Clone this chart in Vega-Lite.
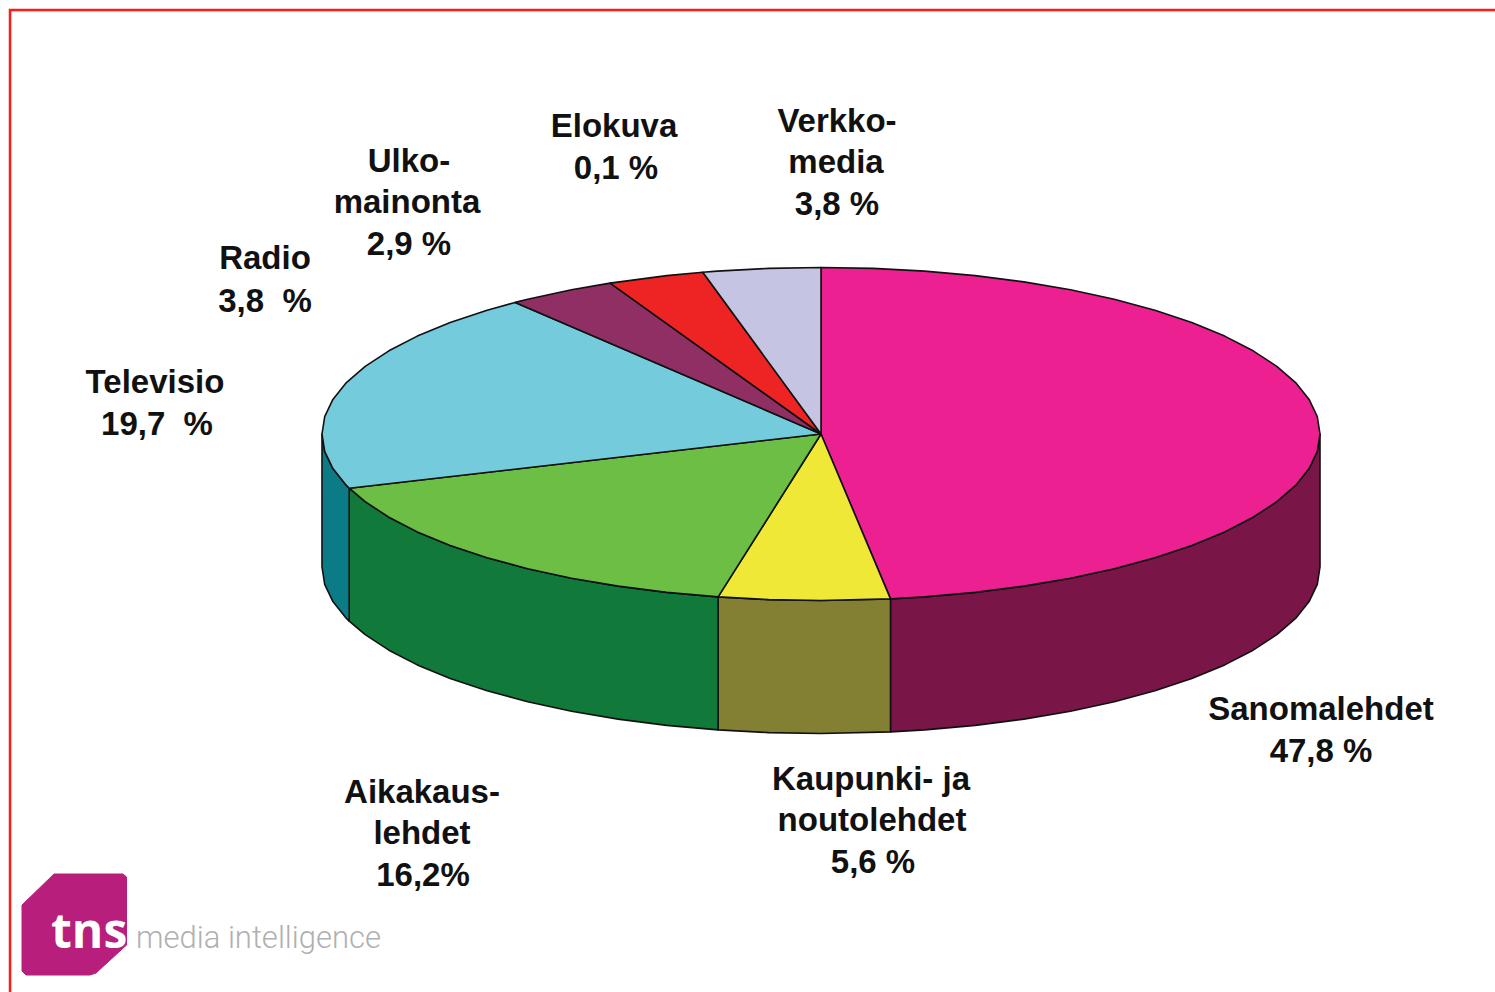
{"$schema":"https://vega.github.io/schema/vega-lite/v6.json","width":1495,"height":992,"padding":0,"autosize":"none","background":"#ffffff","view":{"stroke":null},"config":{"legend":{"disable":true}},
"encoding":{"x":{"field":"x","type":"quantitative","axis":null,"scale":{"domain":[0,1495],"nice":false,"zero":false}},"y":{"field":"y","type":"quantitative","axis":null,"scale":{"domain":[992,0],"nice":false,"zero":false}}},
"layer":[
{"data":{"values":[{"x":10,"y":992,"o":1},{"x":10,"y":10,"o":2},{"x":1495,"y":10,"o":3}]},"mark":{"type":"line","stroke":"#ff1a1a","strokeWidth":2.5,"interpolate":"linear"},"encoding":{"order":{"field":"o","type":"quantitative"}}},
{"data":{"values":[
{"p":"maroon","o":1,"x":1320,"y":434},{"p":"maroon","o":2,"x":1317.3,"y":451.4},{"p":"maroon","o":3,"x":1309.1,"y":468.6},{"p":"maroon","o":4,"x":1295.6,"y":485.4},{"p":"maroon","o":5,"x":1276.8,"y":501.7},{"p":"maroon","o":6,"x":1253.1,"y":517.2},{"p":"maroon","o":7,"x":1224.7,"y":531.9},{"p":"maroon","o":8,"x":1191.8,"y":545.4},{"p":"maroon","o":9,"x":1154.9,"y":557.7},{"p":"maroon","o":10,"x":1114.3,"y":568.7},{"p":"maroon","o":11,"x":1070.5,"y":578.2},{"p":"maroon","o":12,"x":1023.9,"y":586.1},{"p":"maroon","o":13,"x":975.2,"y":592.4},{"p":"maroon","o":14,"x":924.7,"y":596.9},{"p":"maroon","o":15,"x":890.5,"y":598.9},{"p":"maroon","o":16,"x":890.5,"y":731.9},{"p":"maroon","o":17,"x":924.7,"y":729.9},{"p":"maroon","o":18,"x":975.2,"y":725.4},{"p":"maroon","o":19,"x":1023.9,"y":719.1},{"p":"maroon","o":20,"x":1070.5,"y":711.2},{"p":"maroon","o":21,"x":1114.3,"y":701.7},{"p":"maroon","o":22,"x":1154.9,"y":690.7},{"p":"maroon","o":23,"x":1191.8,"y":678.4},{"p":"maroon","o":24,"x":1224.7,"y":664.9},{"p":"maroon","o":25,"x":1253.1,"y":650.2},{"p":"maroon","o":26,"x":1276.8,"y":634.7},{"p":"maroon","o":27,"x":1295.6,"y":618.4},{"p":"maroon","o":28,"x":1309.1,"y":601.6},{"p":"maroon","o":29,"x":1317.3,"y":584.4},{"p":"maroon","o":30,"x":1320,"y":567},
{"p":"olive","o":1,"x":890.5,"y":598.9},{"p":"olive","o":2,"x":821,"y":600.5},{"p":"olive","o":3,"x":768.8,"y":599.6},{"p":"olive","o":4,"x":718.1,"y":596.9},{"p":"olive","o":5,"x":718.1,"y":729.9},{"p":"olive","o":6,"x":768.8,"y":732.6},{"p":"olive","o":7,"x":821,"y":733.5},{"p":"olive","o":8,"x":890.5,"y":731.9},
{"p":"darkgreen","o":1,"x":718.1,"y":596.9},{"p":"darkgreen","o":2,"x":666.8,"y":592.4},{"p":"darkgreen","o":3,"x":618.1,"y":586.1},{"p":"darkgreen","o":4,"x":571.5,"y":578.2},{"p":"darkgreen","o":5,"x":527.7,"y":568.7},{"p":"darkgreen","o":6,"x":487.1,"y":557.7},{"p":"darkgreen","o":7,"x":450.2,"y":545.4},{"p":"darkgreen","o":8,"x":417.3,"y":531.9},{"p":"darkgreen","o":9,"x":388.9,"y":517.2},{"p":"darkgreen","o":10,"x":365.2,"y":501.7},{"p":"darkgreen","o":11,"x":349.2,"y":488.2},{"p":"darkgreen","o":12,"x":349.2,"y":621.2},{"p":"darkgreen","o":13,"x":365.2,"y":634.7},{"p":"darkgreen","o":14,"x":388.9,"y":650.2},{"p":"darkgreen","o":15,"x":417.3,"y":664.9},{"p":"darkgreen","o":16,"x":450.2,"y":678.4},{"p":"darkgreen","o":17,"x":487.1,"y":690.7},{"p":"darkgreen","o":18,"x":527.7,"y":701.7},{"p":"darkgreen","o":19,"x":571.5,"y":711.2},{"p":"darkgreen","o":20,"x":618.1,"y":719.1},{"p":"darkgreen","o":21,"x":666.8,"y":725.4},{"p":"darkgreen","o":22,"x":718.1,"y":729.9},
{"p":"darkteal","o":1,"x":349.2,"y":488.2},{"p":"darkteal","o":2,"x":346.4,"y":485.4},{"p":"darkteal","o":3,"x":332.9,"y":468.6},{"p":"darkteal","o":4,"x":324.7,"y":451.4},{"p":"darkteal","o":5,"x":322,"y":434},{"p":"darkteal","o":6,"x":322,"y":567},{"p":"darkteal","o":7,"x":324.7,"y":584.4},{"p":"darkteal","o":8,"x":332.9,"y":601.6},{"p":"darkteal","o":9,"x":346.4,"y":618.4},{"p":"darkteal","o":10,"x":349.2,"y":621.2},
{"p":"Sanomalehdet","o":0,"x":821,"y":434},{"p":"Sanomalehdet","o":1,"x":821,"y":267.5},{"p":"Sanomalehdet","o":2,"x":873.2,"y":268.4},{"p":"Sanomalehdet","o":3,"x":924.7,"y":271.1},{"p":"Sanomalehdet","o":4,"x":975.2,"y":275.6},{"p":"Sanomalehdet","o":5,"x":1023.9,"y":281.9},{"p":"Sanomalehdet","o":6,"x":1070.5,"y":289.8},{"p":"Sanomalehdet","o":7,"x":1114.3,"y":299.3},{"p":"Sanomalehdet","o":8,"x":1154.9,"y":310.3},{"p":"Sanomalehdet","o":9,"x":1191.8,"y":322.6},{"p":"Sanomalehdet","o":10,"x":1224.7,"y":336.1},{"p":"Sanomalehdet","o":11,"x":1253.1,"y":350.8},{"p":"Sanomalehdet","o":12,"x":1276.8,"y":366.3},{"p":"Sanomalehdet","o":13,"x":1295.6,"y":382.6},{"p":"Sanomalehdet","o":14,"x":1309.1,"y":399.4},{"p":"Sanomalehdet","o":15,"x":1317.3,"y":416.6},{"p":"Sanomalehdet","o":16,"x":1320,"y":434},{"p":"Sanomalehdet","o":17,"x":1317.3,"y":451.4},{"p":"Sanomalehdet","o":18,"x":1309.1,"y":468.6},{"p":"Sanomalehdet","o":19,"x":1295.6,"y":485.4},{"p":"Sanomalehdet","o":20,"x":1276.8,"y":501.7},{"p":"Sanomalehdet","o":21,"x":1253.1,"y":517.2},{"p":"Sanomalehdet","o":22,"x":1224.7,"y":531.9},{"p":"Sanomalehdet","o":23,"x":1191.8,"y":545.4},{"p":"Sanomalehdet","o":24,"x":1154.9,"y":557.7},{"p":"Sanomalehdet","o":25,"x":1114.3,"y":568.7},{"p":"Sanomalehdet","o":26,"x":1070.5,"y":578.2},{"p":"Sanomalehdet","o":27,"x":1023.9,"y":586.1},{"p":"Sanomalehdet","o":28,"x":975.2,"y":592.4},{"p":"Sanomalehdet","o":29,"x":924.7,"y":596.9},{"p":"Sanomalehdet","o":30,"x":890.5,"y":598.9},
{"p":"Kaupunki","o":0,"x":821,"y":434},{"p":"Kaupunki","o":1,"x":890.5,"y":598.9},{"p":"Kaupunki","o":2,"x":821,"y":600.5},{"p":"Kaupunki","o":3,"x":768.8,"y":599.6},{"p":"Kaupunki","o":4,"x":718.1,"y":596.9},
{"p":"Aikakauslehdet","o":0,"x":821,"y":434},{"p":"Aikakauslehdet","o":1,"x":718.1,"y":596.9},{"p":"Aikakauslehdet","o":2,"x":666.8,"y":592.4},{"p":"Aikakauslehdet","o":3,"x":618.1,"y":586.1},{"p":"Aikakauslehdet","o":4,"x":571.5,"y":578.2},{"p":"Aikakauslehdet","o":5,"x":527.7,"y":568.7},{"p":"Aikakauslehdet","o":6,"x":487.1,"y":557.7},{"p":"Aikakauslehdet","o":7,"x":450.2,"y":545.4},{"p":"Aikakauslehdet","o":8,"x":417.3,"y":531.9},{"p":"Aikakauslehdet","o":9,"x":388.9,"y":517.2},{"p":"Aikakauslehdet","o":10,"x":365.2,"y":501.7},{"p":"Aikakauslehdet","o":11,"x":349.2,"y":488.2},
{"p":"Televisio","o":0,"x":821,"y":434},{"p":"Televisio","o":1,"x":349.2,"y":488.2},{"p":"Televisio","o":2,"x":346.4,"y":485.4},{"p":"Televisio","o":3,"x":332.9,"y":468.6},{"p":"Televisio","o":4,"x":324.7,"y":451.4},{"p":"Televisio","o":5,"x":322,"y":434},{"p":"Televisio","o":6,"x":324.7,"y":416.6},{"p":"Televisio","o":7,"x":332.9,"y":399.4},{"p":"Televisio","o":8,"x":346.4,"y":382.6},{"p":"Televisio","o":9,"x":365.2,"y":366.3},{"p":"Televisio","o":10,"x":388.9,"y":350.8},{"p":"Televisio","o":11,"x":417.3,"y":336.1},{"p":"Televisio","o":12,"x":450.2,"y":322.6},{"p":"Televisio","o":13,"x":487.1,"y":310.3},{"p":"Televisio","o":14,"x":515.2,"y":302.4},
{"p":"Radio","o":0,"x":821,"y":434},{"p":"Radio","o":1,"x":515.2,"y":302.4},{"p":"Radio","o":2,"x":527.7,"y":299.3},{"p":"Radio","o":3,"x":571.5,"y":289.8},{"p":"Radio","o":4,"x":610.1,"y":283.1},
{"p":"Ulkomainonta","o":0,"x":821,"y":434},{"p":"Ulkomainonta","o":1,"x":610.1,"y":283.1},{"p":"Ulkomainonta","o":2,"x":666.8,"y":275.6},{"p":"Ulkomainonta","o":3,"x":702.8,"y":272.2},
{"p":"Verkkomedia","o":0,"x":821,"y":434},{"p":"Verkkomedia","o":1,"x":702.8,"y":272.2},{"p":"Verkkomedia","o":2,"x":717.3,"y":271.1},{"p":"Verkkomedia","o":3,"x":768.8,"y":268.4},{"p":"Verkkomedia","o":4,"x":821,"y":267.5}
]},"mark":{"type":"line","stroke":"#111111","strokeWidth":1.6,"interpolate":"linear-closed","strokeJoin":"round"},"encoding":{"order":{"field":"o","type":"quantitative"},"fill":{"field":"p","type":"nominal","legend":null,"scale":{"domain":["maroon","olive","darkgreen","darkteal","Sanomalehdet","Kaupunki","Aikakauslehdet","Televisio","Radio","Ulkomainonta","Verkkomedia"],"range":["#7a1548","#838033","#117a3a","#0b7c86","#ec2090","#efe836","#6cbe45","#73cbdb","#8f2f64","#ee2424","#c5c5e3"]}}}},
{"data":{"values":[{"o":1,"x":22,"y":905},{"o":2,"x":54,"y":874},{"o":3,"x":123,"y":874},{"o":4,"x":126.5,"y":877},{"o":5,"x":126.5,"y":945},{"o":6,"x":96,"y":973},{"o":7,"x":90,"y":975},{"o":8,"x":26,"y":975},{"o":9,"x":22,"y":971}]},"mark":{"type":"line","stroke":"#b81f7d","strokeWidth":1,"fill":"#b81f7d","interpolate":"linear-closed"},"encoding":{"order":{"field":"o","type":"quantitative"}}},
{"data":{"values":[{"t":"tns","x":51,"y":948}]},"mark":{"type":"text","align":"left","baseline":"alphabetic","font":"Open Sans","fontWeight":"bold","fontSize":48,"fill":"#ffffff"},"encoding":{"text":{"field":"t","type":"nominal"}}},
{"data":{"values":[{"t":"media intelligence","x":136,"y":948}]},"mark":{"type":"text","align":"left","baseline":"alphabetic","font":"Roboto","fontWeight":300,"fontSize":31,"fill":"#b0b0b0"},"encoding":{"text":{"field":"t","type":"nominal"}}},
{"data":{"values":[
{"t":"Elokuva","x":614,"y":137},{"t":"0,1 %","x":616,"y":179},
{"t":"Verkko-","x":837,"y":132},{"t":"media","x":836,"y":173},{"t":"3,8 %","x":837,"y":215},
{"t":"Ulko-","x":409,"y":172},{"t":"mainonta","x":407,"y":213},{"t":"2,9 %","x":409,"y":255},
{"t":"Radio","x":265,"y":269},{"t":"3,8\u00a0 %","x":265,"y":312},
{"t":"Televisio","x":155,"y":393},{"t":"19,7\u00a0 %","x":157,"y":435},
{"t":"Sanomalehdet","x":1321,"y":720},{"t":"47,8 %","x":1321,"y":762},
{"t":"Kaupunki- ja","x":871,"y":790},{"t":"noutolehdet","x":872,"y":831},{"t":"5,6 %","x":873,"y":873},
{"t":"Aikakaus-","x":422,"y":803},{"t":"lehdet","x":422,"y":844},{"t":"16,2%","x":423,"y":886}
]},"mark":{"type":"text","align":"center","baseline":"alphabetic","font":"Liberation Sans","fontWeight":"bold","fontSize":33,"fill":"#111111"},"encoding":{"text":{"field":"t","type":"nominal"}}}
]}
